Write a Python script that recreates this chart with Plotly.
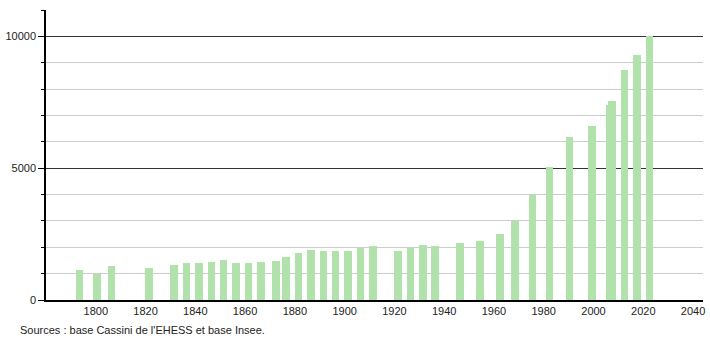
import plotly.graph_objects as go

years = [1793, 1800, 1806, 1821, 1831, 1836, 1841, 1846, 1851, 1856, 1861, 1866,
         1872, 1876, 1881, 1886, 1891, 1896, 1901, 1906, 1911, 1921, 1926, 1931,
         1936, 1946, 1954, 1962, 1968, 1975, 1982, 1990, 1999, 2006, 2007, 2012,
         2017, 2022]
population = [1140, 990, 1305, 1230, 1330, 1395, 1400, 1445, 1500, 1420, 1405, 1460,
              1480, 1635, 1800, 1915, 1865, 1865, 1840, 1975, 2050, 1840, 1975, 2100,
              2065, 2180, 2220, 2510, 3000, 3980, 5045, 6170, 6615, 7410, 7540, 8710,
              9290, 10020]

y_major = [0, 5000, 10000]
y_labels = ["0", "5000", "10000"]
x_ticks = [1800, 1820, 1840, 1860, 1880, 1900, 1920, 1940, 1960, 1980, 2000, 2020, 2040]
source_text = "Sources : base Cassini de l'EHESS et base Insee."

fig = go.Figure(go.Bar(
    x=years, y=population, width=3, offset=-1.1,
    marker=dict(color="#b2e2ab", line=dict(width=0)),
    hoverinfo="x+y",
))

fig.update_layout(
    width=710, height=340,
    margin=dict(l=44, r=5, t=10, b=40),
    paper_bgcolor="white", plot_bgcolor="white",
    font=dict(family="Liberation Sans, Arial, sans-serif", size=11, color="#222"),
    showlegend=False,
    bargap=0,
)
fig.update_xaxes(
    range=[1780, 2044], tickvals=x_ticks, showgrid=False,
    showline=True, linecolor="black", linewidth=1.5, ticks="", zeroline=False,
    tickfont=dict(size=11),
)
fig.update_yaxes(
    range=[0, 11000], tickvals=y_major, ticktext=y_labels,
    showgrid=True, gridcolor="#333333", gridwidth=1,
    ticks="outside", ticklen=6, tickcolor="black",
    minor=dict(dtick=1000, showgrid=True, gridcolor="#cccccc", gridwidth=1,
               ticks="outside", ticklen=3, tickcolor="black"),
    showline=True, linecolor="black", linewidth=1.5, zeroline=False,
    tickfont=dict(size=11),
)
fig.add_annotation(
    text=source_text, xref="paper", yref="paper", x=-0.042, y=-0.075,
    xanchor="left", yanchor="top", showarrow=False, font=dict(size=11, color="#222"),
)
fig.write_html("out.html")
